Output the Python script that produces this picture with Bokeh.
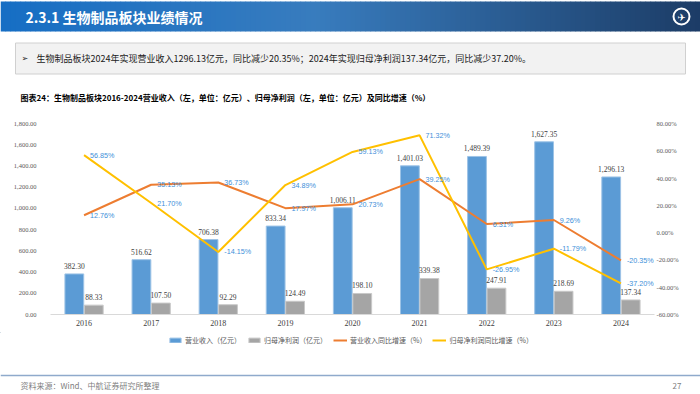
import numpy as np
from bokeh.plotting import figure
from bokeh.models import (ColumnDataSource, FactorRange, Range1d, LinearAxis, FixedTicker,
                          NumeralTickFormatter, PrintfTickFormatter, Legend, LegendItem)
from bokeh.transform import dodge
from bokeh.layouts import column
from bokeh.core.properties import value
from bokeh.embed import file_html
from bokeh.resources import INLINE

# ---------------- data ----------------
years = ["2016", "2017", "2018", "2019", "2020", "2021", "2022", "2023", "2024"]
revenue = [382.30, 516.62, 706.38, 833.34, 1006.11, 1401.03, 1489.39, 1627.35, 1296.13]
profit = [88.33, 107.50, 92.29, 124.49, 198.10, 339.38, 247.91, 218.69, 137.34]
revenue_yoy = [12.76, 35.13, 36.73, 17.97, 20.73, 39.25, 6.31, 9.26, -20.35]
profit_yoy = [56.85, 21.70, -14.15, 34.89, 59.13, 71.32, -26.95, -11.79, -37.20]
left_ticks = [0, 200, 400, 600, 800, 1000, 1200, 1400, 1600, 1800]
right_ticks = [-60, -40, -20, 0, 20, 40, 60, 80]

header_text = "2.3.1 生物制品板块业绩情况"
bullet_text = "生物制品板块2024年实现营业收入1296.13亿元，同比减少20.35%；2024年实现归母净利润137.34亿元，同比减少37.20%。"
chart_title = "图表24：生物制品板块2016-2024营业收入（左，单位：亿元）、归母净利润（左，单位：亿元）及同比增速（%）"
legend_labels = ["营业收入（亿元）", "归母净利润（亿元）", "营业收入同比增速（%）", "归母净利润同比增速（%）"]
source_text = "资料来源：Wind、中航证券研究所整理"
page_no = "27"

W = 700
CJK = value("Noto Sans CJK SC")
SERIF = "Liberation Serif"
SANS = "Liberation Sans"
BLUE, GRAY, ORANGE, YELLOW = "#5B9BD5", "#A5A5A5", "#ED7D31", "#FFC000"
BLUE_EDGE, GRAY_EDGE = "#9DC3E6", "#C9C9C9"

def bare(fig):
    fig.grid.visible = False
    fig.outline_line_color = None
    return fig

# ---------------- top block (coordinates = page pixels) ----------------
top = bare(figure(width=W, height=108, x_range=Range1d(0, 700), y_range=Range1d(108, 0),
                  x_axis_type=None, y_axis_type=None, output_backend="svg",
                  toolbar_location=None, min_border=0, frame_align=False))

n = 140
xs = np.linspace(0, 700, n + 1)
stops = [(0.0, (22, 110, 196)), (0.45, (56, 124, 190)), (1.0, (28, 60, 102))]
cols = []
for t in (xs[:-1] + xs[1:]) / 2 / 700:
    for (t0, c0), (t1, c1) in zip(stops[:-1], stops[1:]):
        if t0 <= t <= t1:
            f = (t - t0) / (t1 - t0)
            cols.append("#%02x%02x%02x" % tuple(int(round(a + (b - a) * f)) for a, b in zip(c0, c1)))
            break
top.quad(left=xs[:-1], right=xs[1:] + 0.6, top=1, bottom=31, fill_color=cols, line_color=None)
top.circle(x=[681], y=[16], radius=8, fill_color=None, line_color="white", line_width=2)
top.text(x=[681], y=[16.5], text=["✈"], text_color="white", text_font=value("DejaVu Sans"),
         text_font_size="10px", text_baseline="middle", text_align="center")
top.text(x=[25], y=[16.5], text=[header_text], text_color="white", text_font=CJK,
         text_font_style="bold", text_font_size="14px", text_baseline="middle")

top.quad(left=15, right=685, top=42.5, bottom=73.5, fill_color="#F2F2F2", line_color="#D0D0D0")
top.text(x=[21], y=[58], text=["➢"], text_color="#222222", text_font=value("DejaVu Sans"),
         text_font_size="8px", text_baseline="middle")
top.text(x=[36], y=[58], text=[bullet_text], text_color="#1a1a1a", text_font=CJK,
         text_font_size="9px", text_baseline="middle")
top.text(x=[20], y=[97], text=[chart_title], text_color="#000000", text_font=CJK,
         text_font_style="bold", text_font_size="8px", text_baseline="middle")

# ---------------- chart ----------------
src = ColumnDataSource(dict(
    year=years, revenue=revenue, profit=profit, rev_yoy=revenue_yoy, prof_yoy=profit_yoy,
    rev_lbl=[f"{v:,.2f}" for v in revenue], prof_lbl=[f"{v:,.2f}" for v in profit],
    rev_yoy_lbl=[f"{v:.2f}%" for v in revenue_yoy], prof_yoy_lbl=[f"{v:.2f}%" for v in profit_yoy],
))

p = bare(figure(width=W, height=224, x_range=FactorRange(*years), y_range=Range1d(0, 1800),
                output_backend="svg", toolbar_location=None, frame_align=False,
                min_border_left=50, min_border_right=46, min_border_top=15, min_border_bottom=18))
p.extra_y_ranges = {"pct": Range1d(-60, 80)}

p.yaxis.ticker = FixedTicker(ticks=left_ticks)
p.yaxis.formatter = NumeralTickFormatter(format="0,0.00")
ra = LinearAxis(y_range_name="pct", ticker=FixedTicker(ticks=right_ticks),
                formatter=PrintfTickFormatter(format="%.2f%%"))
p.add_layout(ra, "right")
for ax in (p.yaxis[0], ra, p.xaxis[0]):
    ax.major_tick_line_color = None
    ax.minor_tick_line_color = None
    ax.major_tick_out = 0
    ax.major_tick_in = 0
    ax.minor_tick_out = 0
    ax.major_label_text_font = SERIF
    ax.major_label_text_color = "#595959"
for ax in (p.yaxis[0], ra):
    ax.axis_line_color = None
    ax.major_label_text_font_size = "6.5px"
p.yaxis[0].major_label_standoff = 14
ra.major_label_standoff = 2

p.xaxis.axis_line_color = "#D9D9D9"
p.xaxis.major_label_text_font_size = "8px"
p.xaxis.major_label_text_color = "#404040"
p.xaxis.major_label_standoff = 5

bw = 0.28
p.vbar(x=dodge("year", -0.145, range=p.x_range), top="revenue", width=bw, source=src,
       fill_color=BLUE, line_color=BLUE_EDGE, line_width=1)
p.vbar(x=dodge("year", 0.145, range=p.x_range), top="profit", width=bw, source=src,
       fill_color=GRAY, line_color=GRAY_EDGE, line_width=1)
p.text(x=dodge("year", -0.145, range=p.x_range), y="revenue", text="rev_lbl", source=src,
       y_offset=-5, text_align="center", text_baseline="bottom", text_font=value(SERIF),
       text_font_size="7.5px", text_color="#404040")
p.text(x=dodge("year", 0.145, range=p.x_range), y="profit", text="prof_lbl", source=src,
       y_offset=-5, text_align="center", text_baseline="bottom", text_font=value(SERIF),
       text_font_size="7.5px", text_color="#404040")

p.line(x="year", y="rev_yoy", y_range_name="pct", source=src, line_color=ORANGE, line_width=2)
p.line(x="year", y="prof_yoy", y_range_name="pct", source=src, line_color=YELLOW, line_width=2)
for col in ("rev_yoy", "prof_yoy"):
    p.text(x="year", y=col, text=col + "_lbl", y_range_name="pct", source=src, x_offset=6,
           text_align="left", text_baseline="middle", text_font=value(SANS),
           text_font_size="7.2px", text_color="#3D8FD9")

# ---------------- legend + footer ----------------
bot = bare(figure(width=W, height=62, x_range=Range1d(0, 700), y_range=Range1d(394, 332),
                  x_axis_type=None, y_axis_type=None, output_backend="svg",
                  toolbar_location=None, min_border=0, frame_align=False))
# legend swatches (placed off-canvas so only the legend shows them)
lr1 = bot.vbar(x=[-1000], top=[0], bottom=[1], width=1, fill_color=BLUE, line_color=BLUE_EDGE)
lr2 = bot.vbar(x=[-1000], top=[0], bottom=[1], width=1, fill_color=GRAY, line_color=GRAY_EDGE)
lr3 = bot.line(x=[-1000, -999], y=[0, 0], line_color=ORANGE, line_width=2)
lr4 = bot.line(x=[-1000, -999], y=[0, 0], line_color=YELLOW, line_width=2)
legend = Legend(items=[LegendItem(label=legend_labels[0], renderers=[lr1]),
                       LegendItem(label=legend_labels[1], renderers=[lr2]),
                       LegendItem(label=legend_labels[2], renderers=[lr3]),
                       LegendItem(label=legend_labels[3], renderers=[lr4])],
                orientation="horizontal", location=(168, 49),
                label_text_font="Noto Sans CJK SC", label_text_font_size="7px",
                label_text_color="#595959", glyph_width=14, glyph_height=6,
                label_standoff=3, spacing=6, padding=0, margin=0, label_height=8,
                border_line_color=None, background_fill_alpha=0)
bot.add_layout(legend)

bot.segment(x0=[0], y0=[375], x1=[700], y1=[375], line_color="#8FAACC", line_width=1.5)
bot.text(x=[20], y=[385], text=[source_text], text_color="#7F7F7F", text_font=CJK,
         text_font_size="8px", text_baseline="middle")
bot.text(x=[681], y=[385], text=[page_no], text_color="#7F7F7F", text_font=CJK,
         text_font_size="8px", text_baseline="middle", text_align="right")

layout = column(top, p, bot, spacing=0)
open("out.html", "w").write(file_html(layout, INLINE))
